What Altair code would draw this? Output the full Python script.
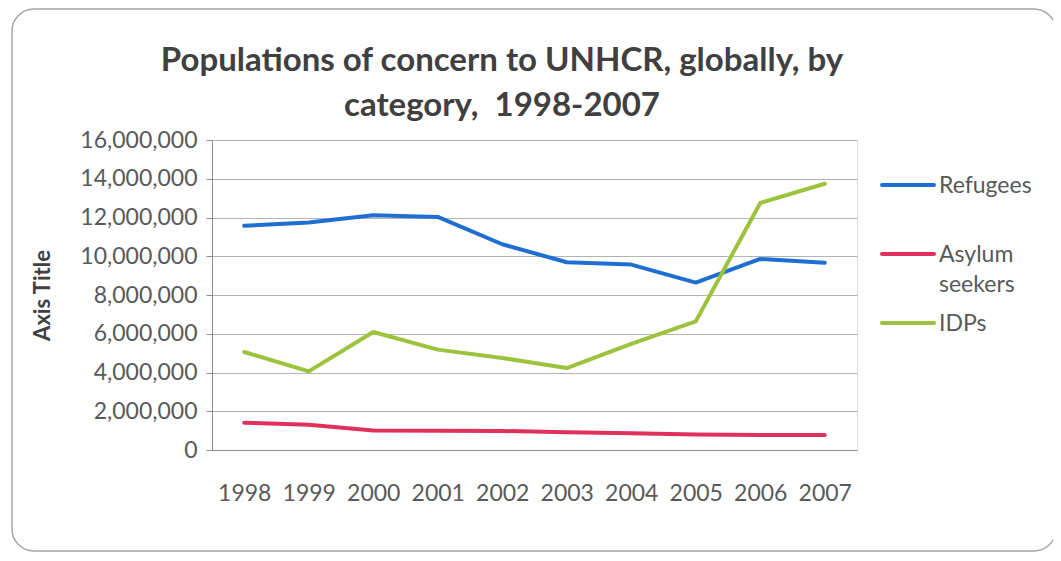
import altair as alt
import pandas as pd

years = ["1998", "1999", "2000", "2001", "2002", "2003", "2004", "2005", "2006", "2007"]
refugees = [11570000, 11740000, 12120000, 12030000, 10620000, 9690000, 9570000, 8640000, 9860000, 9670000]
asylum = [1410000, 1300000, 1010000, 1000000, 980000, 920000, 870000, 800000, 780000, 780000]
idps = [5060000, 4060000, 6090000, 5180000, 4750000, 4230000, 5480000, 6640000, 12750000, 13740000]
series = ["Refugees", "Asylum seekers", "IDPs"]
legend_lines = [["Refugees"], ["Asylum", "seekers"], ["IDPs"]]
colors = ["#1f6fd2", "#e0305c", "#9dc23c"]
title_lines = ["Populations of concern to UNHCR, globally, by", "category,\u00a0 1998-2007"]

rows = []
for name, vals in zip(series, [refugees, asylum, idps]):
    for y, v in zip(years, vals):
        rows.append({"Year": y, "Value": v, "Series": name})
df = pd.DataFrame(rows)
leg_df = pd.DataFrame({"Series": series, "Lines": legend_lines})

FONT = "Lato"
GRAY = "#595959"
color_scale = alt.Scale(domain=series, range=colors)

lines = alt.Chart(df).mark_line(strokeWidth=4, strokeCap="round", strokeJoin="round").encode(
    x=alt.X("Year:O", sort=years, scale=alt.Scale(type="point", padding=0.5),
            axis=alt.Axis(title=None, labelAngle=0, ticks=False, domain=True, domainColor="#8c8c8c",
                          labelPadding=32, labelFontSize=23, labelColor=GRAY, labelFont=FONT, grid=False)),
    y=alt.Y("Value:Q", scale=alt.Scale(domain=[0, 16000000], nice=False),
            axis=alt.Axis(title="Axis Title", values=list(range(0, 16000001, 2000000)), format=",d",
                          tickSize=6, tickColor="#8c8c8c", domainColor="#8c8c8c",
                          gridColor="#b4b4b4", gridWidth=1, labelPadding=9,
                          labelFontSize=23, labelColor=GRAY, labelFont=FONT,
                          titleFont=FONT, titleFontSize=22, titleFontWeight="bold", titleColor="#404040",
                          titleX=-170, titleY=155, titleAngle=270, titleAlign="center", titleBaseline="middle")),
    color=alt.Color("Series:N", sort=series, scale=color_scale, legend=None),
)

leg_y = alt.Y("Series:N", sort=series, scale=alt.Scale(type="point", range=[45, 183], padding=0), axis=None)

leg_rule = alt.Chart(leg_df).mark_rule(strokeWidth=4, strokeCap="round").encode(
    x=alt.value(670), x2=alt.value(722), y=leg_y,
    color=alt.Color("Series:N", sort=series, scale=color_scale, legend=None),
)

leg_text = alt.Chart(leg_df).mark_text(
    align="left", baseline="alphabetic", dy=8, font=FONT, fontSize=23, color=GRAY, lineHeight=30
).encode(
    x=alt.value(727), y=leg_y, text="Lines:N",
)

title = alt.Chart(alt.Data(values=[{}])).mark_text(
    align="center", baseline="alphabetic", font=FONT, fontSize=33, fontWeight="bold",
    color="#404040", lineHeight=45
).encode(
    x=alt.value(290), y=alt.value(-69), text=alt.value(title_lines),
)

frame = alt.Chart(alt.Data(values=[{}])).mark_rect(
    fill=None, stroke="#a6a6a6", strokeWidth=1.5, cornerRadius=22
).encode(
    x=alt.value(-200), x2=alt.value(844), y=alt.value(-131), y2=alt.value(411)
)

chart = alt.layer(frame, title, lines, leg_rule, leg_text).resolve_scale(y="independent").properties(
    width=645, height=310,
    padding={"left": 204, "top": 132, "right": 196, "bottom": 103},
    autosize=alt.AutoSizeParams(type="none"),
).configure_view(stroke=None).configure(background="white")

chart.save("out.html", embed_options={"renderer": "svg", "actions": False})
